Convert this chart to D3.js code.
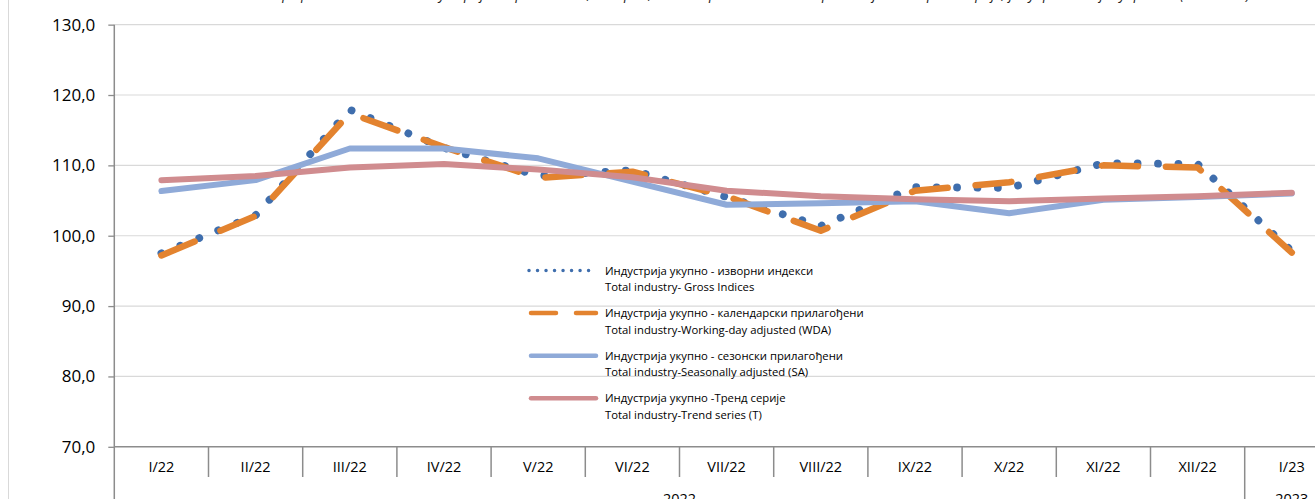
<!DOCTYPE html>
<html>
<head>
<meta charset="utf-8">
<script src="https://cdn.jsdelivr.net/npm/d3@7/dist/d3.min.js"></script>
<style>
  body { margin: 0; background: #fff; }
  svg { display: block; overflow: hidden; }
  text { font-family: "Open Sans", "Noto Sans", sans-serif; fill: #000; }
</style>
</head>
<body>
<svg id="canvas" width="1315" height="499"></svg>
<script>
var months = ['I/22', 'II/22', 'III/22', 'IV/22', 'V/22', 'VI/22', 'VII/22',
              'VIII/22', 'IX/22', 'X/22', 'XI/22', 'XII/22', 'I/23'];
var years = [{ label: '2022', from: 'I/22', to: 'XII/22' },
             { label: '2023', from: 'I/23', to: 'I/23' }];
var yTicks = [70, 80, 90, 100, 110, 120, 130];

var gross    = [97.5, 102.9, 117.9, 112.5, 108.5, 109.3, 105.5, 101.4, 106.9, 106.8, 110.3, 110.2, 97.8];
var wda      = [97.2, 102.8, 117.4, 112.6, 108.2, 109.1, 105.6, 100.7, 106.4, 107.6, 110.0, 109.7, 97.6];
var seasonal = [106.35, 107.9, 112.4, 112.4, 111.0, 107.7, 104.4, 104.6, 104.9, 103.2, 105.1, 105.5, 106.0];
var trend    = [107.9, 108.5, 109.7, 110.2, 109.4, 108.3, 106.4, 105.6, 105.2, 104.9, 105.3, 105.6, 106.1];

var legendRows = [
    { ru: 'Индустрија укупно - изворни индекси', en: 'Total industry- Gross Indices' },
    { ru: 'Индустрија укупно - календарски прилагођени', en: 'Total industry-Working-day adjusted (WDA)' },
    { ru: 'Индустрија укупно - сезонски прилагођени', en: 'Total industry-Seasonally adjusted (SA)' },
    { ru: 'Индустрија укупно -Тренд серије', en: 'Total industry-Trend series (T)' }
];

var title = 'Графикон 1. Индекси индустријске производње, изворни, календарски и сезонски прилагођени и тренд серије, јануар 2022 – јануар 2023 (2021=100)';

var svg = d3.select('#canvas');

var plotLeft = 114.3, band = 94.2;
var plotTop = 24.65, plotBottom = 446.8;

var x = d3.scaleBand()
    .domain(months)
    .range([plotLeft, plotLeft + band * months.length])
    .padding(0);

var y = d3.scaleLinear()
    .domain([70, 130])
    .range([plotBottom, plotTop]);

function cx(m) { return x(m) + x.bandwidth() / 2; }

// clipped title line above the chart
svg.append('text')
    .attr('x', 1250)
    .attr('y', -1.5)
    .attr('text-anchor', 'end')
    .style('font-style', 'italic')
    .style('font-size', '14px')
    .style('fill', '#222')
    .text(title);

// outer border on the left
svg.append('line')
    .attr('x1', 8.5).attr('x2', 8.5)
    .attr('y1', 0).attr('y2', 499)
    .style('stroke', '#d9d9d9');

// gridlines
svg.selectAll('.grid')
    .data(yTicks.slice(1))
    .enter()
    .append('line')
    .attr('class', 'grid')
    .attr('x1', plotLeft)
    .attr('x2', 1315)
    .attr('y1', function(d) { return y(d); })
    .attr('y2', function(d) { return y(d); })
    .style('stroke', '#d9d9d9')
    .style('stroke-width', 1.2);

// y axis
var yAxis = svg.append('g')
    .attr('transform', 'translate(' + plotLeft + ',0)')
    .call(d3.axisLeft(y)
        .tickValues(yTicks)
        .tickSize(6)
        .tickPadding(13)
        .tickFormat(function(d) { return d3.format('.1f')(d).replace('.', ','); }));
yAxis.select('.domain').remove();
yAxis.selectAll('line').style('stroke', '#8c8c8c').style('stroke-width', 1.3);
yAxis.selectAll('text')
    .style('font-size', '17px')
    .style('font-family', '"Open Sans", sans-serif');

svg.append('line')
    .attr('x1', plotLeft).attr('x2', plotLeft)
    .attr('y1', plotTop).attr('y2', 499)
    .style('stroke', '#8c8c8c')
    .style('stroke-width', 1.5);

// x axis
svg.append('line')
    .attr('x1', plotLeft).attr('x2', 1315)
    .attr('y1', plotBottom).attr('y2', plotBottom)
    .style('stroke', '#8c8c8c')
    .style('stroke-width', 1.5);

svg.selectAll('.sep')
    .data(months.slice(1))
    .enter()
    .append('line')
    .attr('class', 'sep')
    .attr('x1', function(d) { return x(d); })
    .attr('x2', function(d) { return x(d); })
    .attr('y1', plotBottom)
    .attr('y2', function(d) { return d === 'I/23' ? 499 : 477; })
    .style('stroke', '#8c8c8c')
    .style('stroke-width', 1.5);

svg.selectAll('.mlabel')
    .data(months)
    .enter()
    .append('text')
    .attr('class', 'mlabel')
    .attr('x', function(d) { return cx(d); })
    .attr('y', 471.7)
    .attr('text-anchor', 'middle')
    .style('font-size', '14.5px')
    .text(function(d) { return d; });

svg.selectAll('.ylabel')
    .data(years)
    .enter()
    .append('text')
    .attr('class', 'ylabel')
    .attr('x', function(d) { return (x(d.from) + x(d.to) + x.bandwidth()) / 2; })
    .attr('y', 503.5)
    .attr('text-anchor', 'middle')
    .style('font-size', '14.5px')
    .text(function(d) { return d.label; });

// series
var line = d3.line()
    .x(function(d, i) { return cx(months[i]); })
    .y(function(d) { return y(d); });

svg.append('path')
    .datum(gross)
    .attr('d', line)
    .style('fill', 'none')
    .style('stroke', '#3f6ead')
    .style('stroke-width', 7.8)
    .style('stroke-linecap', 'round')
    .style('stroke-dasharray', '0.01 20.4');

svg.append('path')
    .datum(wda)
    .attr('d', line)
    .style('fill', 'none')
    .style('stroke', '#e3832f')
    .style('stroke-width', 6.5)
    .style('stroke-linecap', 'round')
    .style('stroke-linejoin', 'round')
    .style('stroke-dasharray', '36 28');

svg.append('path')
    .datum(seasonal)
    .attr('d', line)
    .style('fill', 'none')
    .style('stroke', '#8faad8')
    .style('stroke-width', 6)
    .style('stroke-linecap', 'round')
    .style('stroke-linejoin', 'round');

svg.append('path')
    .datum(trend)
    .attr('d', line)
    .style('fill', 'none')
    .style('stroke', '#d08c8f')
    .style('stroke-width', 6)
    .style('stroke-linecap', 'round')
    .style('stroke-linejoin', 'round');

// legend
var legendY = d3.scalePoint()
    .domain(d3.range(legendRows.length))
    .range([270.5, 398.3]);

var styles = [
    { color: '#3f6ead', width: 3.5, dash: '0.01 8.5' },
    { color: '#e3832f', width: 4.5, dash: '25 20' },
    { color: '#8faad8', width: 4.5, dash: null },
    { color: '#d08c8f', width: 4.5, dash: null }
];

var legend = svg.selectAll('.legend')
    .data(legendRows)
    .enter()
    .append('g')
    .attr('class', 'legend')
    .attr('transform', function(d, i) { return 'translate(0,' + legendY(i) + ')'; });

legend.append('line')
    .attr('x1', function(d, i) { return i === 0 ? 529 : 531; })
    .attr('x2', 596)
    .attr('y1', 0)
    .attr('y2', 0)
    .style('stroke', function(d, i) { return styles[i].color; })
    .style('stroke-width', function(d, i) { return styles[i].width; })
    .style('stroke-linecap', 'round')
    .style('stroke-dasharray', function(d, i) { return styles[i].dash; });

legend.append('text')
    .attr('x', 605)
    .attr('y', 4)
    .style('font-size', '11.3px')
    .text(function(d) { return d.ru; });

legend.append('text')
    .attr('x', 605)
    .attr('y', 20.5)
    .style('font-size', '11.3px')
    .text(function(d) { return d.en; });
</script>
</body>
</html>
